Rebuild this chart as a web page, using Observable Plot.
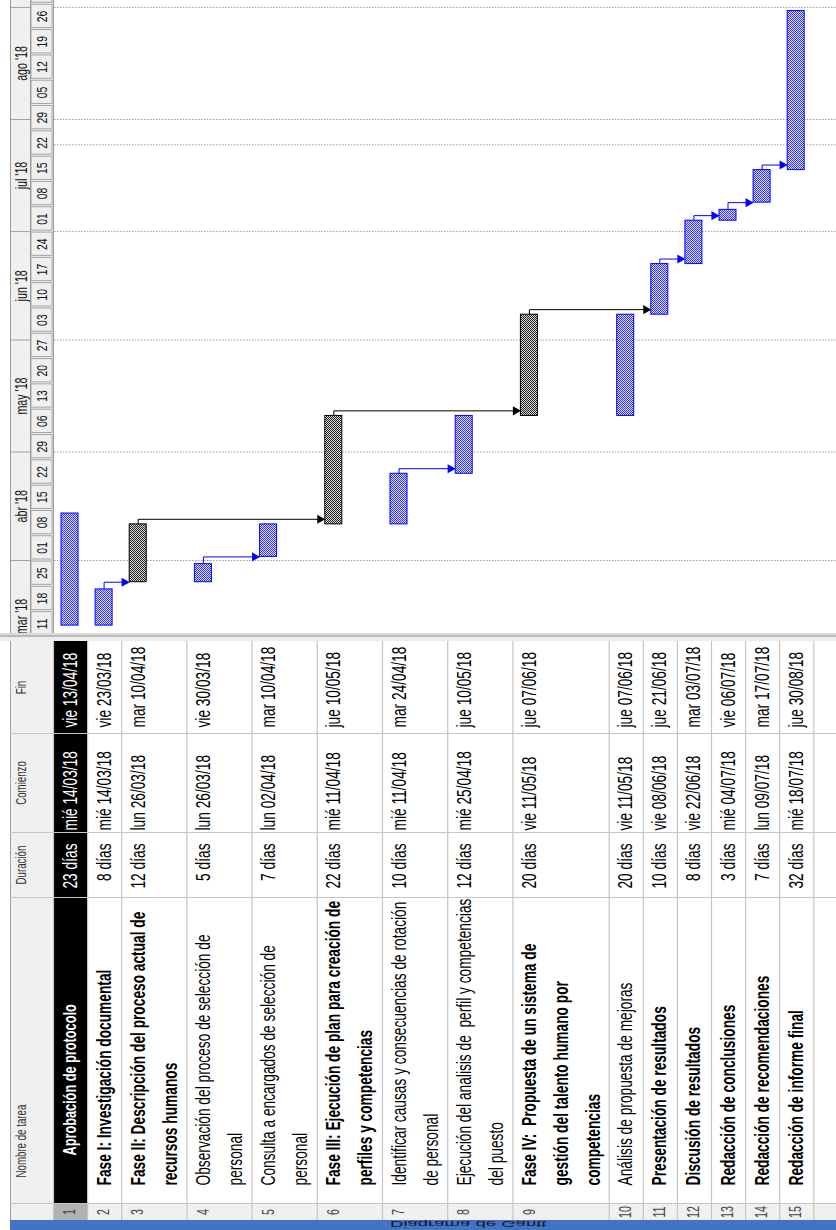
<!DOCTYPE html>
<html lang="es">
<head>
<meta charset="utf-8">
<title>Diagrama de Gantt</title>
<script src="https://cdn.jsdelivr.net/npm/d3@7"></script>
<script src="https://cdn.jsdelivr.net/npm/@observablehq/plot@0.6"></script>
<style>
  html, body { margin: 0; padding: 0; background: #fff; }
  #page { width: 836px; height: 1230px; overflow: hidden; position: relative; }
  #page svg { display: block; max-width: none; }
  .splitter { height: 8px; background: linear-gradient(#dcdcdc 0 2px, #b9b9b9 2px 4px, #ededed 4px 8px); }
  .viewbar { height: 10px; margin-left: 10px; background: #4472c4; overflow: hidden; position: relative; }
  .viewbar span {
    position: absolute; left: 380px; top: 0; line-height: 10px; height: 10px;
    font: 9.5px "Liberation Sans", Arial, sans-serif; color: #10182a;
    transform-origin: 0 50%; transform: scale(1.95, -1); white-space: nowrap;
  }
</style>
</head>
<body>
<div id="page">
  <div id="gantt"></div>
  <div class="splitter"></div>
  <div id="table"></div>
  <div class="viewbar"><span>Diagrama de Gantt</span></div>
</div>
<script>
// ---- Project tasks -------------------------------------------------------
const taskIds = [1, 2, 3, 4, 5, 6, 7, 8, 9, 10, 11, 12, 13, 14, 15];
const taskNames = [
  "Aprobación de protocolo",
  "Fase I: Investigación documental",
  "Fase II: Descripción del proceso actual de\nrecursos humanos",
  "Observación del proceso de selección de\npersonal",
  "Consulta a encargados de selección de\npersonal",
  "Fase III: Ejecución de plan para creación de\nperfiles y competencias",
  "Identificar causas y consecuencias de rotación\nde personal",
  "Ejecución del analisis de  perfil y competencias\ndel puesto",
  "Fase IV:  Propuesta de un sistema de\ngestión del talento humano por\ncompetencias",
  "Análisis de propuesta de mejoras",
  "Presentación de resultados",
  "Discusión de resultados",
  "Redacción de conclusiones",
  "Redacción de recomendaciones",
  "Redacción de informe final"
];
const taskDurations = [23, 8, 12, 5, 7, 22, 10, 12, 20, 20, 10, 8, 3, 7, 32];
const taskStarts = [
  "2018-03-14", "2018-03-14", "2018-03-26", "2018-03-26", "2018-04-02",
  "2018-04-11", "2018-04-11", "2018-04-25", "2018-05-11", "2018-05-11",
  "2018-06-08", "2018-06-22", "2018-07-04", "2018-07-09", "2018-07-18"
];
const taskEnds = [
  "2018-04-13", "2018-03-23", "2018-04-10", "2018-03-30", "2018-04-10",
  "2018-05-10", "2018-04-24", "2018-05-10", "2018-06-07", "2018-06-07",
  "2018-06-21", "2018-07-03", "2018-07-06", "2018-07-17", "2018-08-30"
];
const boldTasks = [2, 3, 6, 9, 11, 12, 13, 14, 15];
const phaseTasks = [3, 6, 9];          // drawn as dark phase bars
const selectedTask = 1;                // highlighted row
// finish-to-start dependencies [predecessor, successor]
const dependencies = [[2, 3], [3, 6], [4, 5], [6, 9], [7, 8], [9, 11], [11, 12], [12, 13], [13, 14], [14, 15]];
const statusDate = "2018-07-25";
const monthNames = ["ene", "feb", "mar", "abr", "may", "jun", "jul", "ago", "sep", "oct", "nov", "dic"];
const dayNames = ["dom", "lun", "mar", "mié", "jue", "vie", "sáb"];
const columnTitles = {name: "Nombre de tarea", duration: "Duración", start: "Comienzo", finish: "Fin"};

// ---- Layout --------------------------------------------------------------
const W = 836, GANTT_H = 633, TABLE_H = 579;
const HDR_LEFT = 10, TIER_SPLIT = 30, HDR_RIGHT = 53;
const ROW_PAD = 3, LINE_H = 31.1, FIRST_LINE = 16.5, LINE_STEP = 32, BAR_HALF = 8.5;
const COL = {finish: [0, 92], start: [92, 191], duration: [191, 256], name: [256, 562], id: [562, 579]};
const FONT = '"Liberation Sans", Arial, Helvetica, sans-serif';
const NARROW = 0.67;   // condensed lettering of the task sheet
const DAY = 864e5;
const LINK_SHIFT = 1.4 * DAY;
const viewStart = new Date(Date.UTC(2018, 2, 11, 19, 30));
const viewEnd = new Date(Date.UTC(2018, 8, 2, 22, 0));

const parse = d3.utcParse("%Y-%m-%d");
const fmtDate = d => `${dayNames[d.getUTCDay()]} ${d3.utcFormat("%d/%m/%y")(d)}`;

const tasks = taskIds.map((id, i) => ({
  id,
  lines: taskNames[i].split("\n"),
  duration: taskDurations[i],
  start: parse(taskStarts[i]),
  end: parse(taskEnds[i]),
  bold: boldTasks.includes(id),
  phase: phaseTasks.includes(id),
  selected: id === selectedTask
}));

// rows grow with the number of lines of their name
let acc = HDR_RIGHT;
for (const t of tasks) {
  t.top = acc;
  acc += ROW_PAD + LINE_H * t.lines.length;
  t.bottom = acc;
  t.mid = t.top + FIRST_LINE;
  t.finish = new Date(+t.end + DAY);
}
const rowEdges = [HDR_RIGHT, ...tasks.map(t => t.bottom)];

const nameLines = tasks.flatMap(t => t.lines.map((text, k) => ({
  text, x: t.mid + k * LINE_STEP, bold: t.bold, selected: t.selected
})));

// dependency paths: up from the predecessor's finish, across to the successor's start
const linkPaths = [], arrowHeads = [];
dependencies.forEach(([p, s], k) => {
  const a = tasks[p - 1], b = tasks[s - 1];
  const y = +b.start <= +a.finish ? new Date(+b.start + LINK_SHIFT) : b.start;
  const dark = a.phase;
  const tip = b.mid - BAR_HALF;
  linkPaths.push({k, dark, x: a.mid, y: a.finish}, {k, dark, x: a.mid, y}, {k, dark, x: tip - 5, y});
  arrowHeads.push({dark, x: tip, y});
});

const inView = d => d >= viewStart && d <= viewEnd;
const weeks = d3.utcSunday.range(d3.utcSunday.floor(viewStart), viewEnd);
const months = d3.utcMonth.range(d3.utcMonth.floor(viewStart), viewEnd);
const weekMid = d => d3.utcHour.offset(d, 84);
const monthMid = d => new Date((+d + +d3.utcMonth.offset(d, 1)) / 2);
const gridDates = [...d3.utcMonth.range(d3.utcMonth.ceil(viewStart), d3.utcDay.offset(viewEnd, 1)), parse(statusDate)];

const arrowSymbol = {
  draw(context, size) {
    const r = Math.sqrt(size / Math.PI);
    context.moveTo(0, 0);
    context.lineTo(-2.3 * r, -1.3 * r);
    context.lineTo(-2.3 * r, 1.3 * r);
    context.closePath();
  }
};

function condense(svg) {
  d3.select(svg).selectAll("text").each(function () {
    this.setAttribute("transform", `${this.getAttribute("transform") || ""} scale(${NARROW},1)`);
  });
}

const one = [0];

// ---- Gantt chart ---------------------------------------------------------
const gantt = Plot.plot({
  width: W, height: GANTT_H, margin: 0,
  style: {fontFamily: FONT, background: "white", color: "#111"},
  x: {type: "linear", domain: [0, W], range: [0, W], axis: null},
  y: {type: "utc", domain: [viewStart, viewEnd], range: [GANTT_H, 0], axis: null},
  marks: [
    Plot.rect(one, {x1: () => HDR_LEFT, x2: () => HDR_RIGHT, y1: () => viewStart, y2: () => viewEnd, fill: "#f0f0f0"}),
    // month tier
    Plot.ruleY(months, {y: d => d, x1: () => HDR_LEFT, x2: () => TIER_SPLIT, stroke: "#a0a0a0"}),
    Plot.text(months.filter(d => inView(monthMid(d))), {
      x: () => (HDR_LEFT + TIER_SPLIT) / 2 + 1,
      y: monthMid,
      text: d => `${monthNames[d.getUTCMonth()]} '${d3.utcFormat("%y")(d)}`,
      rotate: -90, fontSize: 16, fill: "#111"
    }),
    // week tier
    Plot.rect(weeks, {
      x1: () => TIER_SPLIT, x2: () => HDR_RIGHT, y1: d => d, y2: d => d3.utcDay.offset(d, 7),
      fill: "#f0f0f0", stroke: "#a4a4a4", inset: 1
    }),
    Plot.text(weeks.filter(d => inView(weekMid(d))), {
      x: () => (TIER_SPLIT + HDR_RIGHT) / 2 + 0.5,
      y: weekMid,
      text: d => d3.utcFormat("%d")(d),
      rotate: -90, fontSize: 15.5, fill: "#111"
    }),
    Plot.ruleX([HDR_LEFT, TIER_SPLIT, HDR_RIGHT], {x: d => d, stroke: "#9a9a9a"}),
    // gridlines
    Plot.ruleY(gridDates, {y: d => d, x1: () => HDR_RIGHT + 1, x2: () => W, stroke: "#9a9a9a", strokeDasharray: "1.5,1.5"}),
    // dependencies
    Plot.line(linkPaths.filter(d => !d.dark), {x: "x", y: "y", z: "k", stroke: "#0000ff", strokeWidth: 1}),
    Plot.line(linkPaths.filter(d => d.dark), {x: "x", y: "y", z: "k", stroke: "#000", strokeWidth: 1}),
    Plot.dot(arrowHeads.filter(d => !d.dark), {x: "x", y: "y", symbol: arrowSymbol, r: 3.5, fill: "#0000ff", stroke: "none"}),
    Plot.dot(arrowHeads.filter(d => d.dark), {x: "x", y: "y", symbol: arrowSymbol, r: 3.5, fill: "#000", stroke: "none"}),
    // task bars
    Plot.rect(tasks.filter(t => !t.phase), {
      x1: d => d.mid - BAR_HALF, x2: d => d.mid + BAR_HALF, y1: "start", y2: "finish",
      fill: "url(#blueDither)", stroke: "#0000ff", strokeWidth: 1
    }),
    Plot.rect(tasks.filter(t => t.phase), {
      x1: d => d.mid - BAR_HALF, x2: d => d.mid + BAR_HALF, y1: "start", y2: "finish",
      fill: "url(#greyDither)", stroke: "#000", strokeWidth: 1
    })
  ]
});
d3.select(gantt).insert("defs", ":first-child").html(`
  <pattern id="blueDither" width="2" height="2" patternUnits="userSpaceOnUse">
    <rect width="2" height="2" fill="#dcdcff"/>
    <rect width="1" height="1" fill="#3434ff"/>
    <rect x="1" y="1" width="1" height="1" fill="#3434ff"/>
  </pattern>
  <pattern id="greyDither" width="2" height="2" patternUnits="userSpaceOnUse">
    <rect width="2" height="2" fill="#d6d6d6"/>
    <rect width="1" height="1" fill="#262626"/>
    <rect x="1" y="1" width="1" height="1" fill="#262626"/>
  </pattern>`);
condense(gantt);
document.getElementById("gantt").append(gantt);

// ---- Task sheet ----------------------------------------------------------
const sel = tasks.filter(t => t.selected);
const plain = tasks.filter(t => !t.selected);
const cellText = {rotate: -90, fontSize: 20.5};
const table = Plot.plot({
  width: W, height: TABLE_H, margin: 0,
  style: {fontFamily: FONT, background: "white", color: "#000"},
  x: {type: "linear", domain: [0, W], range: [0, W], axis: null},
  y: {type: "linear", domain: [0, TABLE_H], range: [0, TABLE_H], axis: null},
  marks: [
    Plot.rect(one, {x1: () => HDR_LEFT, x2: () => HDR_RIGHT, y1: () => 0, y2: () => TABLE_H, fill: "#f0f0f0"}),
    Plot.rect(one, {x1: () => HDR_RIGHT, x2: () => W, y1: () => COL.id[0], y2: () => COL.id[1], fill: "#f0f0f0"}),
    Plot.rect(sel, {x1: "top", x2: "bottom", y1: () => COL.finish[0], y2: () => COL.name[1], fill: "#000"}),
    Plot.rect(sel, {x1: "top", x2: "bottom", y1: () => COL.id[0], y2: () => COL.id[1], fill: "#b2b2b2"}),
    // task names
    Plot.text(nameLines.filter(d => !d.selected && d.bold), {...cellText, x: "x", y: () => COL.name[1] - 18, text: "text", textAnchor: "start", fontWeight: "bold", fill: "#000"}),
    Plot.text(nameLines.filter(d => !d.selected && !d.bold), {...cellText, x: "x", y: () => COL.name[1] - 18, text: "text", textAnchor: "start", fill: "#000"}),
    Plot.text(nameLines.filter(d => d.selected), {...cellText, fontSize: 19, x: "x", y: () => COL.name[1] - 48, text: "text", textAnchor: "start", fontWeight: "bold", fill: "#fff"}),
    // data cells are drawn over any name that runs past its column
    Plot.rect(one, {x1: () => HDR_RIGHT, x2: () => W, y1: () => COL.finish[0], y2: () => COL.duration[1], fill: "#fff"}),
    Plot.rect(sel, {x1: "top", x2: "bottom", y1: () => COL.finish[0], y2: () => COL.duration[1], fill: "#000"}),
    // grid
    Plot.ruleX(rowEdges, {x: d => d, y1: () => 0, y2: () => COL.id[1], stroke: "#c6c6c6", strokeWidth: 1.2}),
    Plot.ruleX([HDR_LEFT], {x: d => d, y1: () => 0, y2: () => COL.id[1], stroke: "#a0a0a0"}),
    Plot.ruleY([COL.start[0], COL.duration[0], COL.name[0], COL.id[0]], {y: d => d, x1: () => HDR_LEFT, x2: () => W, stroke: "#c6c6c6", strokeWidth: 1.2}),
    // column titles
    Plot.text([columnTitles.finish, columnTitles.start, columnTitles.duration], {
      x: () => 21, y: (d, i) => [COL.finish, COL.start, COL.duration][i].reduce((a, b) => a + b) / 2,
      text: d => d, rotate: -90, fontSize: 14.5, fill: "#333"
    }),
    Plot.text([columnTitles.name], {x: () => 21, y: () => COL.name[1] - 26, text: d => d, textAnchor: "start", rotate: -90, fontSize: 14.5, fill: "#333"}),
    // ids
    Plot.text(tasks, {x: "mid", y: () => (COL.id[0] + COL.id[1]) / 2, text: "id", rotate: -90, fontSize: 16, fill: "#444"}),
    // durations and dates
    Plot.text(plain, {...cellText, x: "mid", y: () => COL.duration[0] + 11, text: d => `${d.duration} días`, textAnchor: "end", fill: "#000"}),
    Plot.text(plain, {...cellText, x: "mid", y: () => COL.start[1] - 2, text: d => fmtDate(d.start), textAnchor: "start", fill: "#000"}),
    Plot.text(plain, {...cellText, x: "mid", y: () => COL.finish[1] - 6, text: d => fmtDate(d.end), textAnchor: "start", fill: "#000"}),
    Plot.text(sel, {...cellText, x: "mid", y: () => COL.duration[0] + 11, text: d => `${d.duration} días`, textAnchor: "end", fill: "#fff"}),
    Plot.text(sel, {...cellText, x: "mid", y: () => COL.start[1] - 2, text: d => fmtDate(d.start), textAnchor: "start", fill: "#fff"}),
    Plot.text(sel, {...cellText, x: "mid", y: () => COL.finish[1] - 6, text: d => fmtDate(d.end), textAnchor: "start", fill: "#fff"})
  ]
});
condense(table);
document.getElementById("table").append(table);
</script>
</body>
</html>
